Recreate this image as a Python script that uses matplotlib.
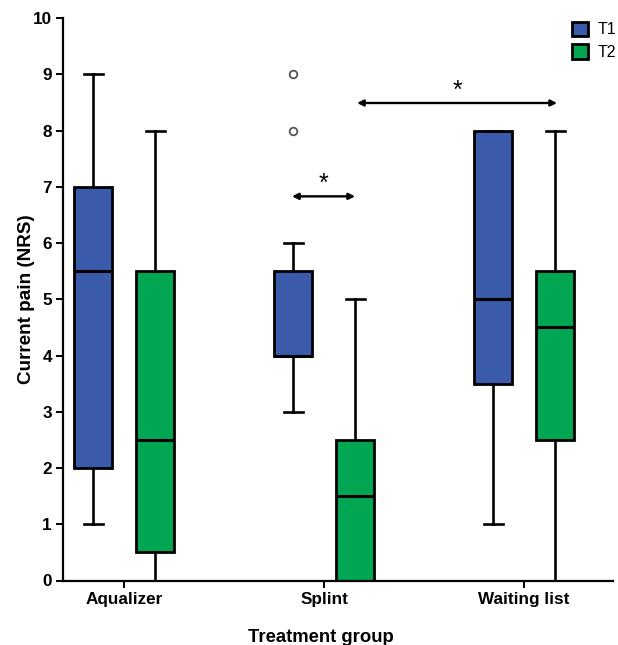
import matplotlib.pyplot as plt
import numpy as np
from matplotlib.patches import Patch

plt.rcParams['font.family'] = ['Liberation Sans', 'DejaVu Sans']

groups = ["Aqualizer", "Splint", "Waiting list"]
series = ["T1", "T2"]
colors = {"T1": "#3A5BA9", "T2": "#00A651"}

# box stats per group: whisker low, Q1, median, Q3, whisker high
t1_whislo = [1, 3, 1]
t1_q1 = [2, 4, 3.5]
t1_med = [5.5, 4, 5]
t1_q3 = [7, 5.5, 8]
t1_whishi = [9, 6, 8]
t1_fliers = [[], [8, 9], []]

t2_whislo = [0, 0, 0]
t2_q1 = [0.5, 0, 2.5]
t2_med = [2.5, 1.5, 4.5]
t2_q3 = [5.5, 2.5, 5.5]
t2_whishi = [8, 5, 8]
t2_fliers = [[], [], []]

# significance arrows: (from x, to x, y) in group units
sig_arrows = [(0.84, 1.155, 6.83), (1.165, 2.165, 8.49)]


def make_stats(lo, q1, med, q3, hi, fl):
    return [dict(whislo=a, q1=b, med=c, q3=d, whishi=e, fliers=f)
            for a, b, c, d, e, f in zip(lo, q1, med, q3, hi, fl)]


stats = {
    "T1": make_stats(t1_whislo, t1_q1, t1_med, t1_q3, t1_whishi, t1_fliers),
    "T2": make_stats(t2_whislo, t2_q1, t2_med, t2_q3, t2_whishi, t2_fliers),
}

fig = plt.figure(figsize=(6.18, 6.45), dpi=100)
ax = fig.add_axes([0.102, 0.100, 0.890, 0.872])

x = np.arange(len(groups))
offset = 0.155
width = 0.19

for i, s in enumerate(series):
    pos = x + (-offset if i == 0 else offset)
    ax.bxp(stats[s], positions=pos, widths=width, capwidths=width / 2,
           patch_artist=True, showfliers=True,
           boxprops=dict(facecolor=colors[s], edgecolor="black", linewidth=2),
           medianprops=dict(color="black", linewidth=2.2),
           whiskerprops=dict(color="black", linewidth=1.9),
           capprops=dict(color="black", linewidth=1.9),
           flierprops=dict(marker="o", markerfacecolor="white",
                           markeredgecolor="#555555", markersize=5.5,
                           markeredgewidth=1.3))

for x0, x1, y in sig_arrows:
    ax.annotate("", xy=(x1, y), xytext=(x0, y),
                arrowprops=dict(arrowstyle="<|-|>", color="black", lw=1.7,
                                mutation_scale=9, shrinkA=0, shrinkB=0))
    ax.text((x0 + x1) / 2, y, "*", ha="center", va="bottom",
            fontsize=18, color="black")

ax.set_xlim(-0.305, 2.445)
ax.set_ylim(0, 10)
ax.set_xticks(x, groups)
ax.set_yticks(np.arange(0, 11, 1))
for lab in ax.get_xticklabels() + ax.get_yticklabels():
    lab.set_fontweight("bold")
    lab.set_fontsize(12.3)

ax.spines["top"].set_visible(False)
ax.spines["right"].set_visible(False)
ax.spines["left"].set_linewidth(1.6)
ax.spines["bottom"].set_linewidth(1.6)
ax.tick_params(axis="both", length=5, width=1.4, color="black", pad=3)

ax.set_xlabel("Treatment group", fontsize=13.3, fontweight="bold")
ax.xaxis.set_label_coords(0.469, -0.086)
ax.set_ylabel("Current pain (NRS)", fontsize=13.6, fontweight="bold")
ax.yaxis.set_label_coords(-0.051, 0.5)

handles = [Patch(facecolor=colors[s], edgecolor="black", linewidth=2, label=s)
           for s in series]
ax.legend(handles=handles, loc="upper right", bbox_to_anchor=(1.017, 1.005),
          frameon=False, fontsize=11.5, handlelength=1.0, handleheight=1.0,
          handletextpad=0.6, labelspacing=0.45, borderaxespad=0.0)

fig.savefig("out.png", dpi=100)
